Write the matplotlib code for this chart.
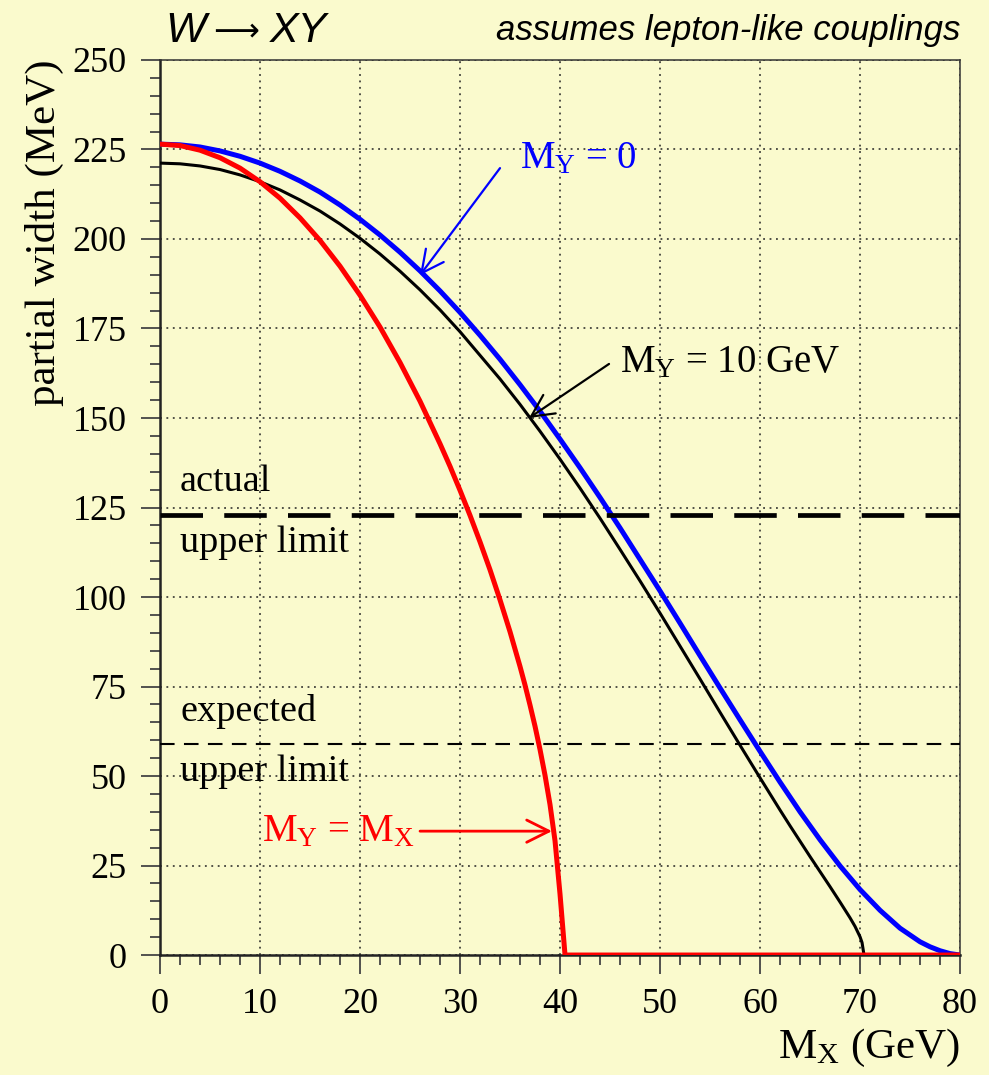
import numpy as np
import matplotlib.pyplot as plt
from matplotlib.ticker import MultipleLocator

plt.rcParams['font.family'] = ['Liberation Serif', 'DejaVu Serif']
plt.rcParams['mathtext.fontset'] = 'custom'
plt.rcParams['mathtext.rm'] = 'Liberation Serif'
plt.rcParams['mathtext.it'] = 'Liberation Serif:italic'

# M_Y = 0
mx_blue = [0, 2, 4, 6, 8, 10, 12, 14, 16, 18, 20, 22, 24, 26, 28, 30, 32, 34, 36, 38, 40,
           42, 44, 46, 48, 50, 52, 54, 56, 58, 60, 62, 64, 66, 68, 70, 72, 74, 76, 77, 78, 79, 80]
gam_blue = [226.5, 226.3, 225.7, 224.6, 223.1, 221.2, 218.9, 216.2, 213.1, 209.5, 205.5,
            201.1, 196.3, 191.1, 185.5, 179.5, 173.1, 166.4, 159.3, 151.9, 144.1,
            136.1, 127.8, 119.3, 110.5, 101.7, 92.7, 83.6, 74.6, 65.7, 56.9, 48.3, 40.0,
            32.2, 24.9, 18.3, 12.5, 7.5, 3.7, 2.3, 1.2, 0.4, 0.0]

# M_Y = 10 GeV
mx_black = [0, 2, 4, 6, 8, 10, 12, 14, 16, 18, 20, 22, 24, 26, 28, 30, 32, 34, 36, 38, 40,
            42, 44, 46, 48, 50, 52, 54, 56, 58, 60, 62, 63, 64, 65, 66, 67, 68, 69, 69.5,
            70, 70.2, 70.4]
gam_black = [221.2, 221.0, 220.4, 219.4, 217.9, 216.0, 213.7, 210.9, 207.8, 204.2, 200.2,
             195.8, 191.0, 185.8, 180.2, 174.1, 167.5, 160.9, 153.8, 146.3, 138.5,
             130.4, 122.0, 113.3, 104.5, 95.5, 86.3, 77.1, 67.8, 58.6, 49.5, 40.5, 36.1,
             31.8, 27.5, 23.3, 19.1, 14.8, 10.4, 8.0, 5.1, 3.5, 0.0]

# M_Y = M_X
mx_red = [0, 2, 4, 6, 8, 10, 12, 14, 16, 18, 20, 22, 24, 26, 28, 29, 30, 31, 32, 33, 34,
          35, 36, 36.5, 37, 37.5, 38, 38.5, 39, 39.5, 40, 40.5, 80]
gam_red = [226.5, 226.1, 224.8, 222.7, 219.8, 216.0, 211.4, 205.9, 199.6, 192.4, 184.3,
           175.4, 165.5, 154.7, 142.8, 136.5, 129.8, 122.8, 115.4, 107.6, 99.2,
           90.3, 80.6, 75.4, 69.8, 63.9, 57.4, 50.2, 42.0, 31.9, 17.0, 0.0, 0.0]

actual_limit = 123
expected_limit = 59

fig = plt.figure(figsize=(9.89, 10.75), dpi=100)
bg = '#fafacd'
fig.patch.set_facecolor(bg)
ax = fig.add_axes([0.1618, 0.1116, 0.8089, 0.8326])
ax.set_facecolor(bg)

ax.plot(mx_blue, gam_blue, color='#0000ff', lw=3.6, zorder=3, solid_joinstyle='round')
ax.plot(mx_black, gam_black, color='black', lw=2.2, zorder=3, solid_joinstyle='round')
ax.plot(mx_red, gam_red, color='#ff0000', lw=3.6, zorder=4, solid_joinstyle='round')

ax.axhline(actual_limit, color='black', lw=3.4, ls=(0, (9, 4.5)), zorder=5)
ax.axhline(expected_limit, color='black', lw=1.5, ls=(0, (7, 4.5)), zorder=5)

ax.set_xlim(0, 80)
ax.set_ylim(0, 250)
ax.xaxis.set_major_locator(MultipleLocator(10))
ax.xaxis.set_minor_locator(MultipleLocator(2))
ax.yaxis.set_major_locator(MultipleLocator(25))
ax.yaxis.set_minor_locator(MultipleLocator(5))
ax.grid(True, which='major', color='#222222', lw=1.1, ls=(0, (1.2, 3)), zorder=1)

ax.tick_params(which='major', direction='out', length=14, width=1.3, color='#444444',
               labelsize=26, pad=10)
ax.tick_params(which='minor', direction='out', length=7, width=1.3, color='#444444')

for s in ['left', 'bottom']:
    ax.spines[s].set_linewidth(1.8)
    ax.spines[s].set_color('#222222')
for s in ['top', 'right']:
    ax.spines[s].set_linewidth(1.1)
    ax.spines[s].set_linestyle((0, (2, 1)))
    ax.spines[s].set_color('#333333')

ax.set_ylabel('partial width (MeV)', fontsize=31, loc='top')
ax.yaxis.set_label_coords(-0.12, 1.0)
ax.set_xlabel(r'$\mathrm{M_X}$ (GeV)', fontsize=31, loc='right')
ax.xaxis.set_label_coords(1.0, -0.08)

# title pieces
tfam = ['Liberation Sans', 'DejaVu Sans']
fig.text(0.1668, 0.961, 'W', fontsize=31, style='italic', family=tfam, ha='left', va='baseline')
fig.text(0.2150, 0.9628, '\u27f6', fontsize=23, family=['DejaVu Sans'], ha='left', va='baseline')
fig.text(0.2730, 0.961, 'XY', fontsize=31, style='italic', family=tfam, ha='left', va='baseline')
fig.text(0.9707, 0.963, 'assumes lepton-like couplings', fontsize=25, style='italic',
         family=tfam, ha='right', va='baseline')

ax.text(2, actual_limit + 6.5, 'actual', fontsize=27.5, va='baseline')
ax.text(2, actual_limit - 10.5, 'upper limit', fontsize=27.5, va='baseline')
ax.text(2, expected_limit + 6.5, 'expected', fontsize=27.5, va='baseline')
ax.text(2, expected_limit - 10.5, 'upper limit', fontsize=27.5, va='baseline')

ax.text(36.0, 219.8, r'$\mathrm{M_Y}$ = 0', fontsize=28, color='#0000ff', va='baseline')
ax.text(46.0, 162.8, r'$\mathrm{M_Y}$ = 10 GeV', fontsize=28, color='black', va='baseline')
ax.text(10.2, 31.8, r'$\mathrm{M_Y}$ = $\mathrm{M_X}$', fontsize=28, color='#ff0000', va='baseline')

def arrow(tail, tip, col, lw):
    ax.annotate('', xy=tip, xytext=tail,
                arrowprops=dict(arrowstyle='->,head_length=0.8,head_width=0.4',
                                color=col, lw=lw, shrinkA=0, shrinkB=0,
                                mutation_scale=20), zorder=6)

arrow((34.0, 219.8), (26.0, 189.9), '#0000ff', 1.6)
arrow((44.9, 165.1), (36.9, 150.0), 'black', 1.6)
arrow((26.0, 34.6), (39.2, 34.6), '#ff0000', 2.0)

fig.savefig('out.png', dpi=100, facecolor=bg)
